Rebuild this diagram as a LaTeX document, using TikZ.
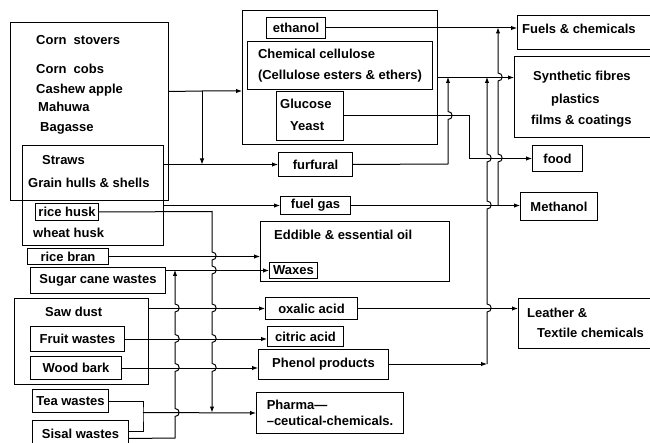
\documentclass[tikz,border=0pt]{standalone}
\usepackage{fontspec}
\setmainfont{Liberation Sans}
\usetikzlibrary{arrows.meta}
\newcommand\bx[7][]{\node[box,#1,minimum width={#5pt-#3pt},minimum height={#6pt-#4pt}] (#2) at (#3,#4) {#7};}
\newcommand\bmpup[2]{-- (#1,#2+4) .. controls (#1+5.5,#2+4) and (#1+5.5,#2-4) .. (#1,#2-4)}
\newcommand\bmpdn[2]{-- (#1,#2-4) .. controls (#1+5.5,#2-4) and (#1+5.5,#2+4) .. (#1,#2+4)}
\begin{document}
\begin{tikzpicture}[x=1pt,y=-1pt,
  font=\fontsize{13}{16}\selectfont\bfseries,
  box/.style={draw, line width=1pt, inner sep=0pt, anchor=north west},
  lbl/.style={anchor=west, inner sep=0pt},
  conn/.style={line width=1pt},
  arr/.style={conn, -{Latex[length=6pt,width=4.5pt]}}]
\useasboundingbox (0,0) rectangle (650,443);
% ---------- left column ----------
\bx{A}{10}{22}{168}{200}{}
\bx{B}{22}{145}{163}{245}{}
\node[lbl] (t1) at (36,40) {Corn\ \ stovers};
\node[lbl] (t2) at (36,69) {Corn\ \ cobs};
\node[lbl] (t3) at (36,90) {Cashew apple};
\node[lbl] (t4) at (38,107) {Mahuwa};
\node[lbl] (t5) at (40,128) {Bagasse};
\node[lbl] (t6) at (42,160) {Straws};
\node[lbl] (t7) at (28,183) {Grain hulls \& shells};
\bx{ricehusk}{35}{203}{98}{220}{rice husk}
\node[lbl] (t8) at (33,233) {wheat husk};
\bx{ricebran}{27}{248}{108}{264}{rice bran}
\bx{sugar}{30}{267}{165}{293}{Sugar cane wastes}
\bx{C}{14}{298}{148}{384}{}
\node[lbl] (t9) at (45,312) {Saw dust};
\bx{fruit}{30}{326}{124}{351}{Fruit wastes}
\bx{wood}{30}{356}{121}{379}{Wood bark}
\bx{tea}{32}{389}{108}{412}{Tea wastes}
\bx{sisal}{32}{420}{128}{446}{Sisal wastes}
% ---------- middle column ----------
\bx{D}{242}{10}{437}{144}{}
\bx{ethanol}{266}{17}{325}{38}{ethanol}
\bx[align=left]{chem}{247}{41}{432}{89}{Chemical cellulose\\[5pt](Cellulose esters \& ethers)}
\bx{glucose}{276}{91}{343}{140}{}
\node[lbl] (t10) at (280,104) {Glucose};
\node[lbl] (t11) at (290,126) {Yeast};
\bx{furfural}{278}{152}{352}{176}{furfural}
\bx{fuelgas}{280}{196}{350}{214}{fuel gas}
\bx{oil}{260}{221}{449}{281}{}
\node[lbl] (t12) at (274,235) {Eddible \& essential oil};
\bx{waxes}{269}{262}{317}{278}{Waxes}
\bx{oxalic}{265}{297}{357}{319}{oxalic acid}
\bx{citric}{267}{326}{343}{346}{citric acid}
\bx{phenol}{258}{349}{388}{379}{Phenol products}
\bx[align=left]{pharma}{256}{392}{403}{433}{Pharma---\\--ceutical-chemicals.}
% ---------- right column ----------
\bx{fuels}{517}{15}{660}{49}{}
\node[lbl] (t13) at (522,29) {Fuels \& chemicals};
\bx{synth}{514}{56}{660}{137}{}
\node[lbl] (t14) at (533,77) {Synthetic fibres};
\node[lbl] (t15) at (551,100) {plastics};
\node[lbl] (t16) at (531,121) {films \& coatings};
\bx{food}{532}{145}{582}{171}{food}
\bx{methanol}{520}{192}{597}{220}{Methanol}
\bx{leather}{518}{298}{660}{348}{}
\node[lbl] (t17) at (527,313) {Leather \&};
\node[lbl] (t18) at (537,333) {Textile chemicals};
% ---------- connectors, left ----------
\coordinate (ja) at (202,91);
\draw[arr] ([yshift=20pt]A.east) -- (ja) -- (D.west |- ja);
\draw[arr] (ja) -- (ja |- furfural.west);
\draw[arr] (B.east |- furfural.west) -- (furfural.west);
\draw[arr] (B.east |- fuelgas.west) -- (fuelgas.west);
\draw[arr] (ricehusk.east) -- (212,211.5) \bmpdn{212}{256} \bmpdn{212}{270} \bmpdn{212}{308} \bmpdn{212}{338.5} \bmpdn{212}{367.5} -- (212,412.5);
\draw[arr] (ricebran.east) -- (oil.west |- ricebran.east);
\draw[arr] (sugar.east |- waxes.west) -- (waxes.west);
\draw[arr] (C.east |- oxalic.west) -- (oxalic.west);
\draw[arr] (fruit.east) -- (citric.west |- fruit.east);
\draw[arr] (wood.east) -- (phenol.west |- wood.east);
\coordinate (tj) at (143,412.5);
\draw[conn] (tea.east) -| (tj) |- ([yshift=2pt]sisal.east);
\draw[arr] (tj) -- (pharma.west);
\draw[arr] ([yshift=-5pt]sisal.east) -- (175,438) \bmpup{175}{412.5} \bmpup{175}{367.5} \bmpup{175}{338.5} \bmpup{175}{308} -- (175,270);
% ---------- connectors, right ----------
\draw[arr] (ethanol.east) -- (ethanol.east -| fuels.west);
\draw[arr] (D.east) -- (D.east -| synth.west);
\draw[arr] (glucose.east) -- ++(125,0) |- (food.west);
\draw[arr] (furfural.east) -- (448,164) \bmpup{448}{115.5} -- (448,77);
\draw[arr] (fuelgas.east) -- (fuelgas.east -| methanol.west);
\coordinate (jm) at (498,205);
\draw[arr] (jm) \bmpup{498}{158} \bmpup{498}{77} -- (498,27.5);
\coordinate (jp) at (487,364);
\draw[arr] (phenol.east |- jp) -- (jp);
\draw[arr] (jp) \bmpup{487}{308} \bmpup{487}{205} \bmpup{487}{158} -- (487,77);
\draw[arr] (oxalic.east) -- (oxalic.east -| leather.west);
\end{tikzpicture}
\end{document}
